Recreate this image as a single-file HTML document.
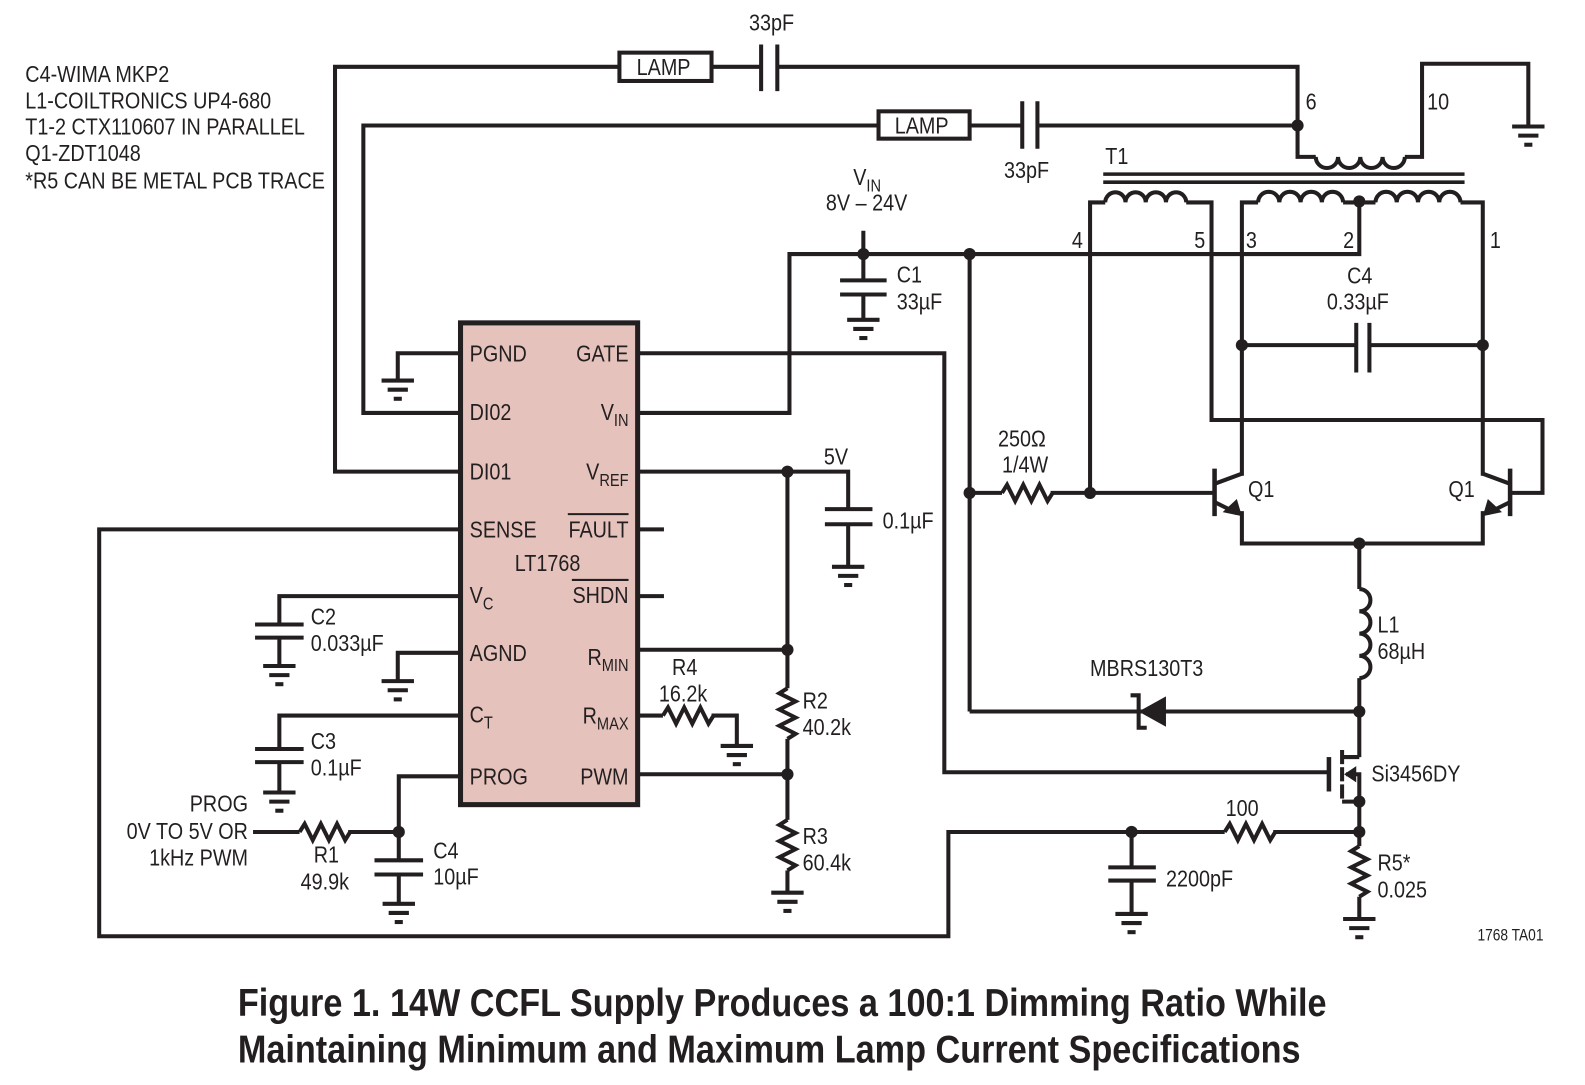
<!DOCTYPE html>
<html><head><meta charset="utf-8"><style>
html,body{margin:0;padding:0;background:#fff;}
svg{display:block;}
text{font-family:"Liberation Sans Narrow","Liberation Sans",sans-serif;font-size:23px;fill:#231f20;transform-box:fill-box;transform-origin:left center;transform:scaleX(.85);}
text.e{transform-origin:right center;}
text.m{transform-origin:center center;}
.cap{font-weight:bold;font-size:38px;transform:scaleX(.89);}
.s{font-size:16px;}
</style></head><body>
<svg width="1585" height="1085" viewBox="0 0 1566 1072" preserveAspectRatio="none" xmlns="http://www.w3.org/2000/svg">
<defs>
<g id="gnd" stroke="#231f20" stroke-width="4"><line x1="-16" y1="0" x2="16" y2="0"/><line x1="-10" y1="9" x2="10" y2="9"/><line x1="-4" y1="18" x2="4" y2="18"/></g>
<path id="rh" d="M0,0 l5,-8 l8,16 l8,-16 l8,16 l8,-16 l8,16 l5,-8" fill="none" stroke="#231f20" stroke-width="4"/>
<path id="rv" d="M0,0 l-8,5 l16,8 l-16,8 l16,8 l-16,8 l16,8 l-8,5" fill="none" stroke="#231f20" stroke-width="4"/>
</defs>
<g fill="none" stroke="#231f20" stroke-width="4">
<rect x="455" y="319" width="175" height="476" fill="#e6c2bc" stroke-width="5"/>
<polyline points="455,466 331,466 331,66 612,66"/>
<rect x="612" y="52" width="91" height="28"/>
<line x1="703" y1="66" x2="752" y2="66"/>
<line x1="752" y1="44" x2="752" y2="90"/><line x1="768" y1="44" x2="768" y2="90"/>
<polyline points="768,66 1282,66 1282,155 1300,155"/>
<path d="M1300,155 a11,11 0 0 0 22,0 a11,11 0 0 0 22,0 a11,11 0 0 0 22,0 a11,11 0 0 0 22,0"/>
<polyline points="1388,155 1405,155 1405,63 1510,63 1510,125"/>
<polyline points="455,408 359,408 359,124 868,124"/>
<rect x="868" y="110" width="90" height="27"/>
<line x1="958" y1="124" x2="1010" y2="124"/>
<line x1="1010" y1="100" x2="1010" y2="147"/><line x1="1025" y1="100" x2="1025" y2="147"/>
<line x1="1025" y1="124" x2="1282" y2="124"/>
<line x1="1090" y1="172" x2="1447" y2="172" stroke-width="3.5"/>
<line x1="1090" y1="180" x2="1447" y2="180" stroke-width="3.5"/>
<polyline points="1077,487 1077,200 1092,200"/>
<path d="M1092,200 a10,10 0 0 1 20,0 a10,10 0 0 1 20,0 a10,10 0 0 1 20,0 a10,10 0 0 1 20,0"/>
<polyline points="1172,200 1197,200 1197,415 1524,415 1524,487 1492,487"/>
<polyline points="1227,470 1227,200 1243,200"/>
<path d="M1243,200 a10.5,10.5 0 0 1 21,0 a10.5,10.5 0 0 1 21,0 a10.5,10.5 0 0 1 21,0 a10.5,10.5 0 0 1 21,0"/>
<line x1="1327" y1="200" x2="1359" y2="200"/>
<path d="M1359,200 a10.5,10.5 0 0 1 21,0 a10.5,10.5 0 0 1 21,0 a10.5,10.5 0 0 1 21,0 a10.5,10.5 0 0 1 21,0"/>
<polyline points="1443,200 1465,200 1465,470"/>
<polyline points="1343,200 1343,251 780,251 780,408 630,408"/>
<line x1="1227" y1="341" x2="1340" y2="341"/><line x1="1352" y1="341" x2="1465" y2="341"/>
<line x1="1340" y1="319" x2="1340" y2="368"/><line x1="1353" y1="319" x2="1353" y2="368"/>
<line x1="1200" y1="463" x2="1200" y2="510" stroke-width="4.5"/>
<line x1="1200" y1="478" x2="1227" y2="468"/>
<line x1="1200" y1="496" x2="1222" y2="507"/>
<polyline points="1227,505 1227,537 1465,537 1465,505"/>
<line x1="1492" y1="463" x2="1492" y2="510" stroke-width="4.5"/>
<line x1="1492" y1="478" x2="1465" y2="468"/>
<line x1="1492" y1="496" x2="1470" y2="507"/>
<line x1="958" y1="487" x2="990" y2="487"/>
<line x1="1038" y1="487" x2="1200" y2="487"/>
<line x1="958" y1="251" x2="958" y2="703"/>
<line x1="1343" y1="537" x2="1343" y2="582"/>
<path d="M1343,582 a11,11 0 0 1 0,22 a11,11 0 0 1 0,22 a11,11 0 0 1 0,22 a11,11 0 0 1 0,22"/>
<line x1="1343" y1="670" x2="1343" y2="748"/>
<line x1="958" y1="703" x2="1343" y2="703"/>
<polyline points="1117,687 1125,687 1125,719 1133,719"/>
<polyline points="1343,748 1326,748"/>
<line x1="1313" y1="748" x2="1313" y2="782" stroke-width="4.5"/>
<line x1="1326" y1="741" x2="1326" y2="755"/>
<line x1="1326" y1="758" x2="1326" y2="772"/>
<line x1="1326" y1="775" x2="1326" y2="789"/>
<polyline points="1330,765 1343,765 1343,822"/>
<line x1="1326" y1="792" x2="1343" y2="792"/>
<polyline points="630,349 933,349 933,763 1313,763"/>
<polyline points="1343,822 1258,822"/>
<polyline points="1210,822 937,822 937,925 98,925 98,523 455,523"/>
<line x1="1118" y1="822" x2="1118" y2="857"/>
<line x1="1095" y1="857" x2="1142" y2="857"/><line x1="1095" y1="870" x2="1142" y2="870"/>
<line x1="1118" y1="870" x2="1118" y2="903"/>
<line x1="1343" y1="822" x2="1343" y2="836"/>
<line x1="1343" y1="886" x2="1343" y2="908"/>
<line x1="853" y1="228" x2="853" y2="277"/>
<line x1="830" y1="277" x2="876" y2="277"/><line x1="830" y1="291" x2="876" y2="291"/>
<line x1="853" y1="291" x2="853" y2="316"/>
<polyline points="455,349 393,349 393,376"/>
<polyline points="630,466 838,466 838,503"/>
<line x1="815" y1="503" x2="862" y2="503"/><line x1="815" y1="518" x2="862" y2="518"/>
<line x1="838" y1="518" x2="838" y2="560"/>
<line x1="778" y1="466" x2="778" y2="680"/>
<line x1="778" y1="730" x2="778" y2="810"/>
<line x1="778" y1="860" x2="778" y2="882"/>
<line x1="630" y1="642" x2="778" y2="642"/>
<line x1="630" y1="765" x2="778" y2="765"/>
<line x1="630" y1="523" x2="656" y2="523"/>
<line x1="630" y1="589" x2="656" y2="589"/>
<line x1="630" y1="707" x2="655" y2="707"/>
<polyline points="703,707 728,707 728,737"/>
<polyline points="455,589 276,589 276,617"/>
<line x1="252" y1="617" x2="300" y2="617"/><line x1="252" y1="630" x2="300" y2="630"/>
<line x1="276" y1="630" x2="276" y2="658"/>
<polyline points="455,645 393,645 393,673"/>
<polyline points="455,707 276,707 276,740"/>
<line x1="252" y1="740" x2="300" y2="740"/><line x1="252" y1="753" x2="300" y2="753"/>
<line x1="276" y1="753" x2="276" y2="783"/>
<polyline points="455,767 394,767 394,850"/>
<line x1="250" y1="822" x2="296" y2="822"/>
<line x1="344" y1="822" x2="394" y2="822"/>
<line x1="370" y1="850" x2="418" y2="850"/><line x1="370" y1="864" x2="418" y2="864"/>
<line x1="394" y1="864" x2="394" y2="893"/>
</g>
<use href="#rh" x="990" y="487"/>
<use href="#rh" x="1210" y="822"/>
<use href="#rh" x="655" y="707"/>
<use href="#rh" x="296" y="822"/>
<use href="#rv" x="778" y="680"/>
<use href="#rv" x="778" y="810"/>
<use href="#rv" x="1343" y="836"/>
<use href="#gnd" x="1510" y="125"/>
<use href="#gnd" x="853" y="316"/>
<use href="#gnd" x="393" y="376"/>
<use href="#gnd" x="838" y="560"/>
<use href="#gnd" x="276" y="658"/>
<use href="#gnd" x="393" y="673"/>
<use href="#gnd" x="728" y="737"/>
<use href="#gnd" x="276" y="783"/>
<use href="#gnd" x="394" y="893"/>
<use href="#gnd" x="778" y="882"/>
<use href="#gnd" x="1118" y="903"/>
<use href="#gnd" x="1343" y="908"/>
<g fill="#231f20">
<polygon points="1125,703 1152,688 1152,718"/>
<polygon points="1227,510 1208,506 1222,493"/>
<polygon points="1465,510 1484,506 1470,493"/>
<polygon points="1328,765 1340,757 1340,773"/>
<circle cx="1282" cy="124" r="6"/><circle cx="1343" cy="199" r="6"/>
<circle cx="853" cy="251" r="6"/><circle cx="958" cy="251" r="6"/>
<circle cx="1227" cy="341" r="6"/><circle cx="1465" cy="341" r="6"/>
<circle cx="958" cy="487" r="6"/><circle cx="1077" cy="487" r="6"/>
<circle cx="1343" cy="537" r="6"/><circle cx="1343" cy="703" r="6"/>
<circle cx="1343" cy="792" r="6"/><circle cx="1343" cy="822" r="6"/>
<circle cx="1118" cy="822" r="6"/><circle cx="778" cy="466" r="6"/>
<circle cx="778" cy="642" r="6"/><circle cx="778" cy="765" r="6"/>
<circle cx="394" cy="822" r="6"/>
</g>
<text x="25" y="81">C4-WIMA MKP2</text>
<text x="25" y="107">L1-COILTRONICS UP4-680</text>
<text x="25" y="133">T1-2 CTX110607 IN PARALLEL</text>
<text x="25" y="159">Q1-ZDT1048</text>
<text x="25" y="186">*R5 CAN BE METAL PCB TRACE</text>
<text x="629" y="74">LAMP</text>
<text x="884" y="132">LAMP</text>
<text x="740" y="30">33pF</text>
<text x="992" y="176">33pF</text>
<text x="1290" y="108">6</text>
<text x="1410" y="108">10</text>
<text x="1092" y="162">T1</text>
<text x="1059" y="245">4</text>
<text x="1180" y="245">5</text>
<text x="1231" y="245">3</text>
<text x="1327" y="245">2</text>
<text x="1472" y="245">1</text>
<text x="1331" y="280">C4</text>
<text x="1311" y="306">0.33µF</text>
<text x="1233" y="491">Q1</text>
<text x="1431" y="491">Q1</text>
<text x="986" y="441">250Ω</text>
<text x="990" y="467">1/4W</text>
<text x="1361" y="625">L1</text>
<text x="1361" y="651">68µH</text>
<text x="1077" y="668">MBRS130T3</text>
<text x="1355" y="772">Si3456DY</text>
<text x="1211" y="806">100</text>
<text x="1152" y="876">2200pF</text>
<text x="1361" y="860">R5*</text>
<text x="1361" y="887">0.025</text>
<text x="1525" y="929" class="s e" text-anchor="end">1768 TA01</text>
<text x="843" y="183">V<tspan font-size="17" dy="6">IN</tspan></text>
<text x="816" y="208">8V – 24V</text>
<text x="886" y="279">C1</text>
<text x="886" y="306">33µF</text>
<text x="814" y="459">5V</text>
<text x="872" y="522">0.1µF</text>
<text x="793" y="700">R2</text>
<text x="793" y="726">40.2k</text>
<text x="793" y="834">R3</text>
<text x="793" y="860">60.4k</text>
<text x="664" y="667">R4</text>
<text x="651" y="693">16.2k</text>
<text x="307" y="617">C2</text>
<text x="307" y="643">0.033µF</text>
<text x="307" y="740">C3</text>
<text x="307" y="766">0.1µF</text>
<text x="428" y="848">C4</text>
<text x="428" y="874">10µF</text>
<text x="310" y="852">R1</text>
<text x="297" y="879">49.9k</text>
<text class="e" x="245" y="802" text-anchor="end">PROG</text>
<text class="e" x="245" y="829" text-anchor="end">0V TO 5V OR</text>
<text class="e" x="245" y="855" text-anchor="end">1kHz PWM</text>
<text x="464" y="357">PGND</text>
<text x="464" y="415">DI02</text>
<text x="464" y="474">DI01</text>
<text x="464" y="531">SENSE</text>
<text x="464" y="596">V<tspan font-size="17" dy="6">C</tspan></text>
<text x="464" y="653">AGND</text>
<text x="464" y="714">C<tspan font-size="17" dy="6">T</tspan></text>
<text x="464" y="775">PROG</text>
<text class="e" x="621" y="357" text-anchor="end">GATE</text>
<text class="e" x="621" y="415" text-anchor="end">V<tspan font-size="17" dy="6">IN</tspan></text>
<text class="e" x="621" y="474" text-anchor="end">V<tspan font-size="17" dy="6">REF</tspan></text>
<text class="e" x="621" y="531" text-anchor="end">FAULT</text>
<line x1="561" y1="508" x2="621" y2="508" stroke="#231f20" stroke-width="2"/>
<text class="m" x="541" y="564" text-anchor="middle">LT1768</text>
<text class="e" x="621" y="596" text-anchor="end">SHDN</text>
<line x1="565" y1="573" x2="621" y2="573" stroke="#231f20" stroke-width="2"/>
<text class="e" x="621" y="657" text-anchor="end">R<tspan font-size="17" dy="6">MIN</tspan></text>
<text class="e" x="621" y="715" text-anchor="end">R<tspan font-size="17" dy="6">MAX</tspan></text>
<text class="e" x="621" y="775" text-anchor="end">PWM</text>
<text class="cap" x="235" y="1004">Figure 1. 14W CCFL Supply Produces a 100:1 Dimming Ratio While</text>
<text class="cap" x="235" y="1050">Maintaining Minimum and Maximum Lamp Current Specifications</text>
</svg>
</body></html>
